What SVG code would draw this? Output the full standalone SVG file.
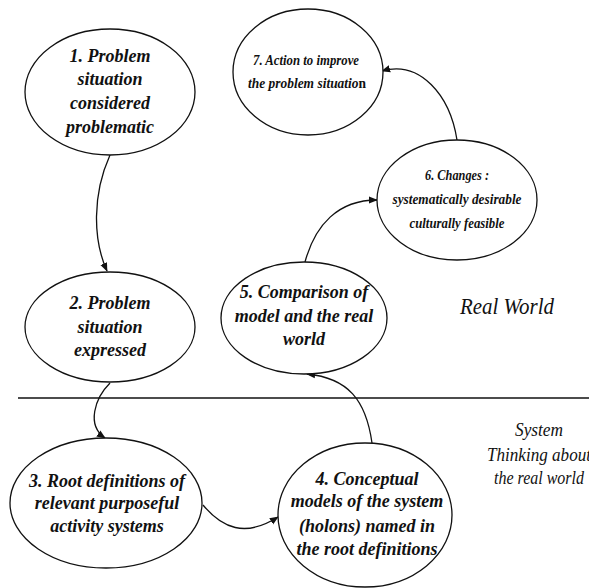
<svg xmlns="http://www.w3.org/2000/svg" width="589" height="588" viewBox="0 0 589 588">
<defs>
<style>
.node ellipse{fill:#fff;stroke:#111;stroke-width:1.3}
.lbl{font-weight:bold;font-style:italic;font-size:18px;fill:#111;text-anchor:middle}
.cnd{font-weight:bold;font-style:italic;font-size:14px;fill:#111;text-anchor:middle}
.reg{font-style:italic;fill:#111;text-anchor:middle}
.conn path{fill:none;stroke:#111;stroke-width:1.3}
</style>
<marker id="ah" viewBox="0 0 10 10" refX="9" refY="5" markerWidth="9" markerHeight="9" markerUnits="userSpaceOnUse" orient="auto">
<path d="M0,1 L10,5 L0,9 z" fill="#111"/>
</marker>
</defs>
<rect width="589" height="588" fill="#fff"/>
<line x1="18" y1="398" x2="589" y2="398" stroke="#111" stroke-width="1.3"/>
<g id="connectors" class="conn">
<path d="M110,155 C 92,195 93,240 107,271" marker-end="url(#ah)"/>
<path d="M110,383 C 95,398 86,425 105,438" marker-end="url(#ah)"/>
<path d="M203,505 C 222,528 245,538 278,517" marker-end="url(#ah)"/>
<path d="M372,443 C 366,400 348,378 307,374" marker-end="url(#ah)"/>
<path d="M305,262 C 315,225 338,200 377,200" marker-end="url(#ah)"/>
<path d="M457,140 C 450,95 420,60 382,71" marker-end="url(#ah)"/>
</g>
<g font-family="Liberation Serif, Times New Roman, DejaVu Serif, serif">
<g id="n1" class="node">
<ellipse cx="110" cy="92" rx="85" ry="63"/>
<text class="lbl" x="110" y="62">1. Problem</text>
<text class="lbl" x="110" y="85">situation</text>
<text class="lbl" x="110" y="109">considered</text>
<text class="lbl" x="110" y="133">problematic</text>
</g>
<g id="n2" class="node">
<ellipse cx="110" cy="327" rx="85" ry="55"/>
<text class="lbl" x="110" y="309">2. Problem</text>
<text class="lbl" x="110" y="333">situation</text>
<text class="lbl" x="110" y="356">expressed</text>
</g>
<g id="n3" class="node">
<ellipse cx="106" cy="503" rx="96" ry="65"/>
<text class="lbl" x="107" y="487">3. Root definitions of</text>
<text class="lbl" x="107" y="509">relevant purposeful</text>
<text class="lbl" x="107" y="532">activity systems</text>
</g>
<g id="n4" class="node">
<ellipse cx="365" cy="515" rx="87" ry="72"/>
<text class="lbl" x="367" y="485">4. Conceptual</text>
<text class="lbl" x="367" y="507">models of the system</text>
<text class="lbl" x="367" y="532">(holons) named in</text>
<text class="lbl" x="367" y="555">the root definitions</text>
</g>
<g id="n5" class="node">
<ellipse cx="304" cy="318" rx="83" ry="56"/>
<text class="lbl" x="304" y="298">5. Comparison of</text>
<text class="lbl" x="304" y="322">model and the real</text>
<text class="lbl" x="304" y="345">world</text>
</g>
<g id="n6" class="node">
<ellipse cx="457" cy="200" rx="80" ry="60"/>
<text class="cnd" x="457" y="180" textLength="64" lengthAdjust="spacingAndGlyphs">6. Changes :</text>
<text class="cnd" x="457" y="204" textLength="129" lengthAdjust="spacingAndGlyphs">systematically desirable</text>
<text class="cnd" x="457" y="228" textLength="95" lengthAdjust="spacingAndGlyphs">culturally feasible</text>
</g>
<g id="n7" class="node">
<ellipse cx="308" cy="72" rx="75" ry="63"/>
<text class="cnd" x="306" y="65" textLength="106" lengthAdjust="spacingAndGlyphs">7. Action to improve</text>
<text class="cnd" x="307" y="88" textLength="118" lengthAdjust="spacingAndGlyphs">the problem situatio<tspan font-style="normal">n</tspan></text>
</g>
<g id="labels">
<text class="reg" x="507" y="314" font-size="24" textLength="94" lengthAdjust="spacingAndGlyphs">Real World</text>
<text class="reg" x="539" y="436" font-size="18" textLength="48" lengthAdjust="spacingAndGlyphs">System</text>
<text class="reg" x="539" y="461" font-size="18" textLength="104" lengthAdjust="spacingAndGlyphs">Thinking about</text>
<text class="reg" x="539" y="484" font-size="18" textLength="90" lengthAdjust="spacingAndGlyphs">the real world</text>
</g>
</g>
</svg>
